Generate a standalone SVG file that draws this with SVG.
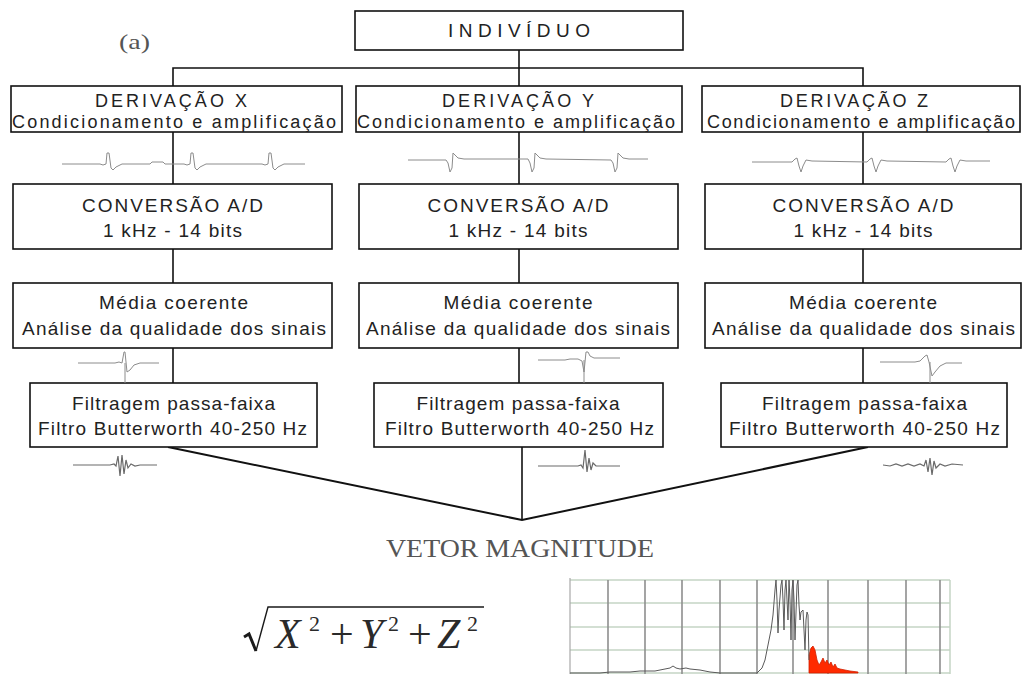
<svg xmlns="http://www.w3.org/2000/svg" width="1023" height="676" viewBox="0 0 1023 676">
<style>
.box{fill:#fff;stroke:#111;stroke-width:1.6}
.t{font-family:"Liberation Sans",Arial,sans-serif;font-size:19px;fill:#222;text-anchor:middle}
.t1{font-size:18px}
.conn{fill:none;stroke:#111;stroke-width:1.6}
.diag{fill:none;stroke:#111;stroke-width:2}
.sig{fill:none;stroke:#8c8c8c;stroke-width:1}
.sigd{fill:none;stroke:#6a6a6a;stroke-width:1.2}
.serif{font-family:"Liberation Serif","Times New Roman",serif;fill:#555}
.hg{stroke:#c5d4c5;stroke-width:1.5}
.vg{stroke:#8e8e8e;stroke-width:1.6}
</style>
<rect width="1023" height="676" fill="#fff"/>

<text class="serif" x="119" y="49" font-size="22" textLength="31" lengthAdjust="spacingAndGlyphs">(a)</text>

<g id="connectors">
<polyline class="conn" points="519,50 519,68"/>
<polyline class="conn" points="173,86 173,68 863,68 863,86"/>
<polyline class="conn" points="519,68 519,86"/>
<polyline class="conn" points="173,132 173,184"/>
<polyline class="conn" points="519,132 519,184"/>
<polyline class="conn" points="863,132 863,184"/>
<polyline class="conn" points="173,249 173,283"/>
<polyline class="conn" points="519,249 519,283"/>
<polyline class="conn" points="863,249 863,283"/>
<polyline class="conn" points="173,348 173,383"/>
<polyline class="conn" points="519,348 519,383"/>
<polyline class="conn" points="863,348 863,383"/>
<polyline class="diag" points="168,447 522,520 868,447"/>
<polyline class="conn" points="522,447 522,520"/>
</g>

<g id="individuo">
<rect class="box" x="355" y="11" width="328" height="39"/>
<text class="t" x="519" y="37" textLength="142">INDIVÍDUO</text>
</g>

<g id="derivacao-x">
<rect class="box" x="11" y="86" width="331" height="46"/>
<text class="t t1" x="171" y="107" textLength="152">DERIVAÇÃO X</text>
<text class="t t1" x="174" y="128" textLength="324">Condicionamento e amplificação</text>
</g>
<g id="derivacao-y">
<rect class="box" x="356" y="86" width="326" height="46"/>
<text class="t t1" x="518" y="107" textLength="152">DERIVAÇÃO Y</text>
<text class="t t1" x="516" y="128" textLength="318">Condicionamento e amplificação</text>
</g>
<g id="derivacao-z">
<rect class="box" x="702" y="86" width="318" height="46"/>
<text class="t t1" x="854" y="107" textLength="148">DERIVAÇÃO Z</text>
<text class="t t1" x="861" y="128" textLength="308">Condicionamento e amplificação</text>
</g>

<g id="conversao-x">
<rect class="box" x="13" y="184" width="319" height="65"/>
<text class="t" x="172.5" y="212" textLength="181">CONVERSÃO A/D</text>
<text class="t" x="172.5" y="237" textLength="139">1 kHz - 14 bits</text>
</g>
<g id="conversao-y">
<rect class="box" x="359" y="184" width="319" height="65"/>
<text class="t" x="518" y="212" textLength="181">CONVERSÃO A/D</text>
<text class="t" x="518" y="237" textLength="139">1 kHz - 14 bits</text>
</g>
<g id="conversao-z">
<rect class="box" x="705" y="184" width="316" height="65"/>
<text class="t" x="863" y="212" textLength="181">CONVERSÃO A/D</text>
<text class="t" x="863" y="237" textLength="139">1 kHz - 14 bits</text>
</g>

<g id="media-x">
<rect class="box" x="13" y="283" width="319" height="65"/>
<text class="t" x="173.5" y="309" textLength="149">Média coerente</text>
<text class="t" x="174" y="335" textLength="304">Análise da qualidade dos sinais</text>
</g>
<g id="media-y">
<rect class="box" x="359" y="283" width="319" height="65"/>
<text class="t" x="518" y="309" textLength="149">Média coerente</text>
<text class="t" x="518" y="335" textLength="304">Análise da qualidade dos sinais</text>
</g>
<g id="media-z">
<rect class="box" x="705" y="283" width="316" height="65"/>
<text class="t" x="863" y="309" textLength="148">Média coerente</text>
<text class="t" x="863.5" y="335" textLength="303">Análise da qualidade dos sinais</text>
</g>

<g id="filtragem-x">
<rect class="box" x="30" y="383" width="287" height="64"/>
<text class="t" x="173.5" y="410" textLength="203">Filtragem passa-faixa</text>
<text class="t" x="172.5" y="435" textLength="269">Filtro Butterworth 40-250 Hz</text>
</g>
<g id="filtragem-y">
<rect class="box" x="374" y="383" width="289" height="64"/>
<text class="t" x="518" y="410" textLength="203">Filtragem passa-faixa</text>
<text class="t" x="519.5" y="435" textLength="269">Filtro Butterworth 40-250 Hz</text>
</g>
<g id="filtragem-z">
<rect class="box" x="721" y="383" width="286" height="64"/>
<text class="t" x="864.5" y="410" textLength="205">Filtragem passa-faixa</text>
<text class="t" x="864.5" y="435" textLength="271">Filtro Butterworth 40-250 Hz</text>
</g>

<g id="signals">
<polyline class="sig" points="62,164 100,164 103,165 106,164 107,153 109,153 111,168 113,170 116,167 122,164 150,164 152,162 163,162 165,164 184,164 187,165 190,164 191,153 193,153 195,168 197,170 200,167 206,164 262,164 265,165 268,164 269,153 271,153 273,168 275,170 278,167 284,164 305,164"/>
<polyline class="sig" points="408,160 446,160 448,163 450,172 452,168 453,153 455,155 458,158 464,159 528,159 530,163 532,172 534,168 535,153 537,155 540,158 546,159 611,160 613,163 615,172 617,168 618,153 620,155 623,158 629,159 648,159"/>
<polyline class="sig" points="752,162 792,162 795,159 797,158 799,166 801,172 803,166 806,160 812,161 867,162 870,159 872,158 874,166 876,172 878,166 881,160 887,161 946,162 949,159 951,158 953,166 955,172 957,166 960,160 966,161 990,161"/>

<polyline class="sig" points="78,363 115,363 119,362 122,363 124,352 125,352 127,372 130,370 134,365 140,363 159,363"/>
<line class="sig" x1="125" y1="363" x2="125" y2="383"/>
<polyline class="sig" points="538,360 565,360 570,359 578,359 582,361 584,372 586,352 588,352 590,356 594,358 620,358"/>
<line class="sig" x1="584" y1="360" x2="584" y2="383"/>
<polyline class="sig" points="880,362 915,362 920,361 925,356 927,355 929,362 932,376 935,372 940,366 946,363 962,363"/>
<line class="sig" x1="930" y1="362" x2="930" y2="383"/>

<polyline class="sigd" points="73,465 110,465 114,464 116,466 118,456 120,476 122,455 124,474 126,460 128,468 131,464 135,466 140,465 157,465"/>
<polyline class="sigd" points="538,466 578,466 581,465 583,468 585,450 587,472 589,458 591,470 593,463 596,466 620,466"/>
<polyline class="sigd" points="883,465 890,466 896,464 902,466 908,464 914,466 920,464 924,466 926,460 928,472 930,458 932,475 934,461 936,468 940,464 945,466 952,464 963,465"/>
</g>

<text class="serif" x="386" y="557" font-size="26" textLength="268" lengthAdjust="spacingAndGlyphs">VETOR MAGNITUDE</text>

<g id="formula">
<path d="M244,637 L249,634 L256,651" fill="none" stroke="#1a1a1a" stroke-width="3"/>
<path d="M256,651 L268,607 L484,607" fill="none" stroke="#1a1a1a" stroke-width="1.4"/>
<text font-family="'Liberation Serif','Times New Roman',serif" font-size="42" fill="#2a2a2a" y="648"><tspan x="275" font-style="italic">X</tspan><tspan x="309" y="631" font-size="22">2</tspan><tspan x="330" y="648">+</tspan><tspan x="360" font-style="italic">Y</tspan><tspan x="388" y="631" font-size="22">2</tspan><tspan x="408" y="648">+</tspan><tspan x="437" font-style="italic">Z</tspan><tspan x="467" y="631" font-size="22">2</tspan></text>
</g>

<g id="chart">
<line class="hg" x1="570" y1="580" x2="950" y2="580"/>
<line class="hg" x1="570" y1="603" x2="950" y2="603"/>
<line class="hg" x1="570" y1="627" x2="950" y2="627"/>
<line class="hg" x1="570" y1="650" x2="950" y2="650"/>
<line class="hg" x1="570" y1="673" x2="950" y2="673"/>
<line class="hg" x1="950" y1="580" x2="950" y2="674"/>
<line x1="570" y1="578" x2="570" y2="674" stroke="#a8a8a8" stroke-width="1.2"/>
<line class="vg" x1="608" y1="580" x2="608" y2="674"/>
<line class="vg" x1="645" y1="580" x2="645" y2="674"/>
<line class="vg" x1="682" y1="580" x2="682" y2="674"/>
<line class="vg" x1="720" y1="580" x2="720" y2="674"/>
<line class="vg" x1="757" y1="580" x2="757" y2="674"/>
<line class="vg" x1="793" y1="580" x2="793" y2="674"/>
<line class="vg" x1="828" y1="580" x2="828" y2="674"/>
<line class="vg" x1="868" y1="580" x2="868" y2="674"/>
<line class="vg" x1="906" y1="580" x2="906" y2="674"/>
<line class="vg" x1="940" y1="580" x2="940" y2="674"/>
<polygon points="809,673 809,655 811,648 813,646 815,650 817,660 819,665 821,662 823,658 825,663 827,660 829,665 831,662 833,667 835,664 837,668 840,669 845,670 850,671 858,672 858,673" fill="#ff2a00" stroke="#d02000" stroke-width="0.8"/>
<polyline fill="none" stroke="#5a5a5a" stroke-width="1" points="570,673 600,673 610,672 630,672 640,671 655,671 665,669 670,668 673,666 676,668 680,669 686,668 690,669 700,670 710,672 720,673 757,673 762,668 765,660 768,645 771,630 773,615 775,590 776,580 777,600 778,633 779,610 781,585 782,580 783,600 784,630 785,590 786,580 787,600 788,620 789,580 790,600 791,640 792,590 793,580 794,600 795,640 797,585 798,580 799,605 800,620 801,612 803,610 804,630 805,650 806,620 807,612 808,615 809,660"/>
</g>
</svg>
